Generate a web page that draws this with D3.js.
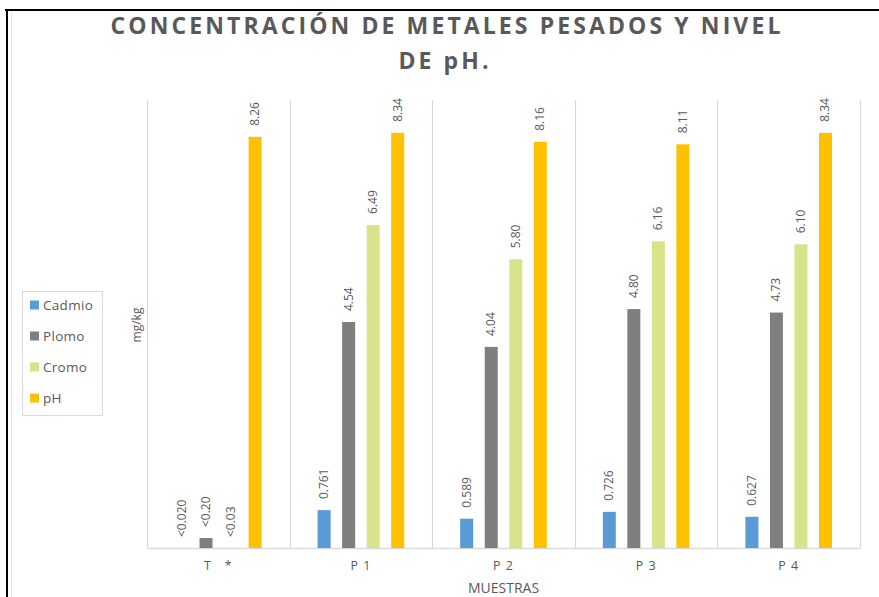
<!DOCTYPE html>
<html>
<head>
<meta charset="utf-8">
<script src="https://cdn.jsdelivr.net/npm/d3@7"></script>
<style>
    body { margin: 0; background: #fff; }
    svg { display: block; font-family: "Open Sans", sans-serif; }
</style>
</head>
<body>
<div id="chart"></div>
<script>
// muestras (categories)
const categories = ["T *", "P1", "P2", "P3", "P4"];
const tickLabels = ["T   *", "P 1", "P 2", "P 3", "P 4"];

// series values, mg/kg (pH without unit)
const seriesNames = ["Cadmio", "Plomo", "Cromo", "pH"];
const cadmio = [0, 0.761, 0.589, 0.726, 0.627];
const plomo = [0.20, 4.54, 4.04, 4.80, 4.73];
const cromo = [0, 6.49, 5.80, 6.16, 6.10];
const ph = [8.26, 8.34, 8.16, 8.11, 8.34];

// labels for the control sample (below detection limit)
const tLabels = ["<0.020", "<0.20", "<0.03", "8.26"];
const formats = [".3f", ".2f", ".2f", ".2f"];
const colors = ["#5b9bd5", "#7f7f7f", "#d9e38c", "#ffc000"];

const cfg = {
    width: 879,
    height: 597,
    margin: { top: 100, right: 19, bottom: 49, left: 147 }
};

const allSeries = [cadmio, plomo, cromo, ph];
const data = categories.map((c, i) => ({
    cat: c,
    values: allSeries.map((s, j) => ({
        key: seriesNames[j],
        idx: j,
        value: s[i],
        label: i === 0 ? tLabels[j] : d3.format(formats[j])(s[i])
    }))
}));

const svg = d3.select("#chart")
    .append("svg")
    .attr("width", cfg.width)
    .attr("height", cfg.height);

// outer frame (partly visible in the source)
svg.append("line").attr("x1", 5).attr("x2", cfg.width).attr("y1", 10).attr("y2", 10)
    .attr("stroke", "#000").attr("stroke-width", 2);
svg.append("line").attr("x1", 7).attr("x2", 7).attr("y1", 9).attr("y2", cfg.height)
    .attr("stroke", "#000").attr("stroke-width", 2);
svg.append("line").attr("x1", 11.5).attr("x2", 11.5).attr("y1", 11).attr("y2", cfg.height)
    .attr("stroke", "#e6e6e6").attr("stroke-width", 1);

// title
const title = svg.append("text")
    .attr("text-anchor", "middle")
    .attr("fill", "#595959")
    .attr("font-size", 23)
    .attr("font-weight", "bold")
    .attr("letter-spacing", 3.1);
title.append("tspan").attr("x", 447).attr("y", 34).text("CONCENTRACIÓN DE METALES PESADOS Y NIVEL");
title.append("tspan").attr("x", 445).attr("y", 69).text("DE pH.");

const w = cfg.width - cfg.margin.left - cfg.margin.right;
const h = cfg.height - cfg.margin.top - cfg.margin.bottom;

const g = svg.append("g")
    .attr("transform", "translate(" + cfg.margin.left + "," + cfg.margin.top + ")");

const x0 = d3.scaleBand()
    .domain(categories)
    .range([0, w])
    .padding(0);

const groupPad = 28;
const x1 = d3.scaleBand()
    .domain(seriesNames)
    .range([groupPad, x0.bandwidth() - groupPad])
    .paddingInner(0.47)
    .paddingOuter(0);

const y = d3.scaleLinear()
    .domain([0, 9])
    .range([h, 0]);

// vertical separators between categories
g.selectAll(".sep")
    .data(categories.concat(["end"]))
    .enter()
    .append("line")
    .attr("class", "sep")
    .attr("x1", (d, i) => Math.round(i * x0.step()) + 0.5)
    .attr("x2", (d, i) => Math.round(i * x0.step()) + 0.5)
    .attr("y1", 0)
    .attr("y2", h)
    .attr("stroke", "#d9d9d9")
    .attr("stroke-width", 1.2);

// bottom axis
const xAxis = g.append("g")
    .attr("transform", "translate(0," + h + ")")
    .call(d3.axisBottom(x0).tickSize(0).tickPadding(13).tickFormat((d, i) => tickLabels[i]));
xAxis.select(".domain").attr("stroke", "#d9d9d9").attr("stroke-width", 1.5);
xAxis.selectAll("text")
    .attr("fill", "#595959")
    .attr("font-size", 12.5)
    .attr("font-family", "Open Sans, sans-serif")
    .attr("letter-spacing", 1)
    .style("white-space", "pre");

// bars
const groups = g.selectAll(".group")
    .data(data)
    .enter()
    .append("g")
    .attr("class", "group")
    .attr("transform", d => "translate(" + x0(d.cat) + ",0)");

groups.selectAll(".bar")
    .data(d => d.values)
    .enter()
    .append("rect")
    .attr("class", "bar")
    .attr("x", d => x1(d.key))
    .attr("y", d => y(d.value))
    .attr("width", x1.bandwidth())
    .attr("height", d => h - y(d.value))
    .attr("fill", d => colors[d.idx]);

// rotated value labels
groups.selectAll(".lbl")
    .data(d => d.values)
    .enter()
    .append("text")
    .attr("class", "lbl")
    .attr("transform", d => "translate(" + (x1(d.key) + x1.bandwidth() / 2 + 4) + "," + (y(d.value) - 11) + ") rotate(-90)")
    .attr("text-anchor", "start")
    .attr("fill", "#595959")
    .attr("font-size", 12)
    .text(d => d.label);

// axis titles
svg.append("text")
    .attr("transform", "translate(141,325) rotate(-90)")
    .attr("text-anchor", "middle")
    .attr("fill", "#595959")
    .attr("font-size", 12)
    .text("mg/kg");

svg.append("text")
    .attr("x", cfg.margin.left + w / 2)
    .attr("y", 593)
    .attr("text-anchor", "middle")
    .attr("fill", "#595959")
    .attr("font-size", 14)
    .text("MUESTRAS");

// legend
const legend = svg.append("g").attr("transform", "translate(22,291)");
legend.append("rect")
    .attr("x", 0.5).attr("y", 0.5)
    .attr("width", 80).attr("height", 124)
    .attr("fill", "#fff")
    .attr("stroke", "#d9d9d9");

const items = legend.selectAll(".item")
    .data(seriesNames)
    .enter()
    .append("g")
    .attr("class", "item")
    .attr("transform", (d, i) => "translate(8," + (14 + i * 31) + ")");
items.append("rect")
    .attr("x", 0).attr("y", -4.5)
    .attr("width", 9).attr("height", 9)
    .attr("fill", (d, i) => colors[i]);
items.append("text")
    .attr("x", 13)
    .attr("y", 0)
    .attr("dy", "0.35em")
    .attr("fill", "#595959")
    .attr("font-size", 13.5)
    .attr("letter-spacing", 0.3)
    .text(d => d);
</script>
</body>
</html>
